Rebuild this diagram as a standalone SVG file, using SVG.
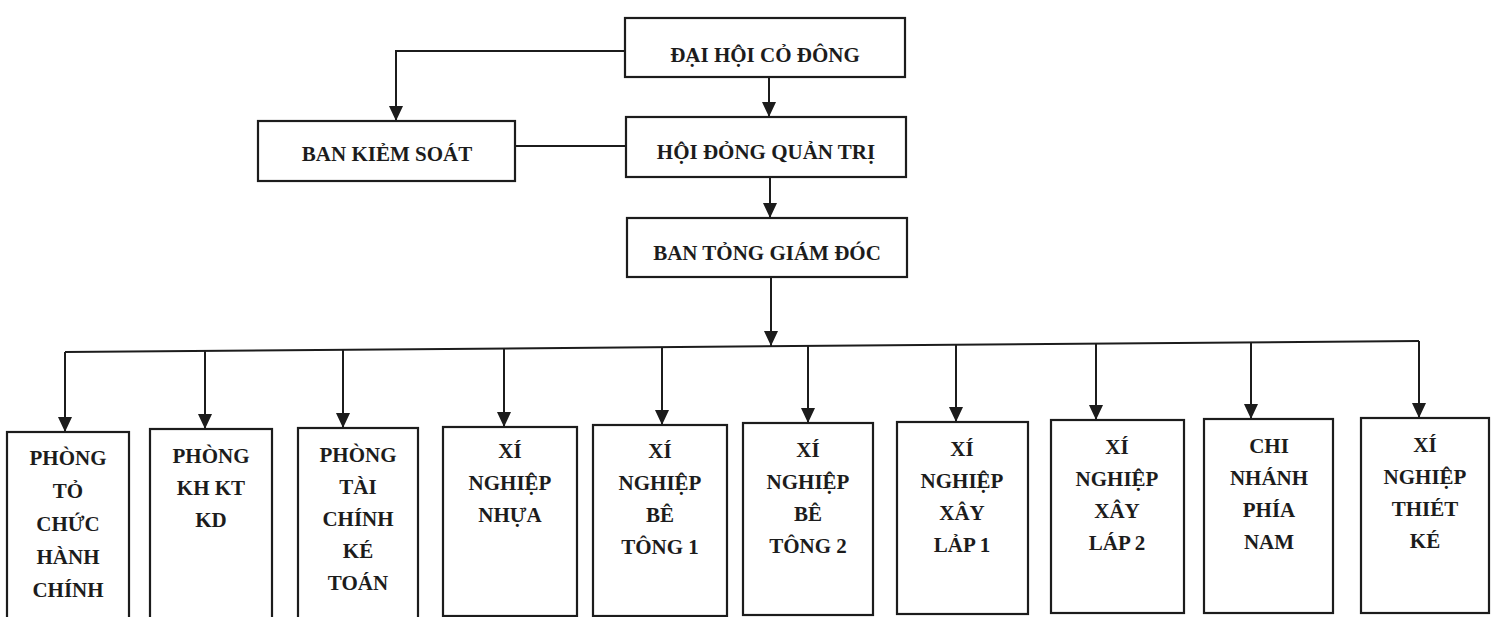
<svg xmlns="http://www.w3.org/2000/svg" width="1492" height="617" viewBox="0 0 1492 617">
<style>
.box{fill:#fff;stroke:#1c1c1c;stroke-width:2.2}
.t{font-family:"Liberation Serif","Times New Roman",serif;font-weight:bold;font-size:21px;fill:#1c1c1c;text-anchor:middle}
.c{fill:none;stroke:#1c1c1c;stroke-width:2}
</style>
<defs>
<marker id="ah" markerUnits="userSpaceOnUse" markerWidth="16" markerHeight="16" viewBox="0 0 16 16" refX="15" refY="8" orient="auto">
<path d="M0,1 L15,8 L0,15 Z" fill="#1c1c1c"/>
</marker>
</defs>
<rect width="1492" height="617" fill="#fff"/>
<g id="connectors">
<path class="c" d="M625,51 H396 V121" marker-end="url(#ah)"/>
<path class="c" d="M769,77 V117" marker-end="url(#ah)"/>
<path class="c" d="M515,146 H626"/>
<path class="c" d="M770,177 V218" marker-end="url(#ah)"/>
<path class="c" d="M771,277 V346" marker-end="url(#ah)"/>
<path class="c" d="M65,352 L1419,341"/>
<path class="c" d="M65,352 V432" marker-end="url(#ah)"/>
<path class="c" d="M205,351 V429" marker-end="url(#ah)"/>
<path class="c" d="M343,350 V428" marker-end="url(#ah)"/>
<path class="c" d="M504,348 V427" marker-end="url(#ah)"/>
<path class="c" d="M662,347 V425" marker-end="url(#ah)"/>
<path class="c" d="M808,346 V423" marker-end="url(#ah)"/>
<path class="c" d="M956,345 V422" marker-end="url(#ah)"/>
<path class="c" d="M1096,344 V420" marker-end="url(#ah)"/>
<path class="c" d="M1251,342 V419" marker-end="url(#ah)"/>
<path class="c" d="M1419,341 V418" marker-end="url(#ah)"/>
</g>
<g id="dai-hoi-co-dong">
<rect class="box" x="625" y="18" width="280" height="59"/>
<text class="t" x="765" y="62">ĐẠI HỘI CỎ ĐÔNG</text>
</g>
<g id="ban-kiem-soat">
<rect class="box" x="258" y="121" width="257" height="60"/>
<text class="t" x="387" y="161">BAN KIẺM SOÁT</text>
</g>
<g id="hoi-dong-quan-tri">
<rect class="box" x="626" y="117" width="280" height="60"/>
<text class="t" x="766" y="159">HỘI ĐỎNG QUẢN TRỊ</text>
</g>
<g id="ban-tong-giam-doc">
<rect class="box" x="627" y="218" width="280" height="59"/>
<text class="t" x="767" y="260">BAN TỎNG GIÁM ĐÓC</text>
</g>
<g id="phong-to-chuc">
<rect class="box" x="7" y="432" width="122" height="200"/>
<text class="t"><tspan x="68" y="465">PHÒNG</tspan><tspan x="68" y="498">TỎ</tspan><tspan x="68" y="531">CHỨC</tspan><tspan x="68" y="564">HÀNH</tspan><tspan x="68" y="597">CHÍNH</tspan></text>
</g>
<g id="phong-kh-kt-kd">
<rect class="box" x="150" y="429" width="122" height="200"/>
<text class="t"><tspan x="211" y="463">PHÒNG</tspan><tspan x="211" y="495">KH KT</tspan><tspan x="211" y="527">KD</tspan></text>
</g>
<g id="phong-tai-chinh">
<rect class="box" x="298" y="428" width="120" height="200"/>
<text class="t"><tspan x="358" y="462">PHÒNG</tspan><tspan x="358" y="494">TÀI</tspan><tspan x="358" y="526">CHÍNH</tspan><tspan x="358" y="558">KÉ</tspan><tspan x="358" y="590">TOÁN</tspan></text>
</g>
<g id="xn-nhua">
<rect class="box" x="443" y="427" width="134" height="189"/>
<text class="t"><tspan x="510" y="458">XÍ</tspan><tspan x="510" y="490">NGHIỆP</tspan><tspan x="510" y="522">NHỰA</tspan></text>
</g>
<g id="xn-be-tong-1">
<rect class="box" x="593" y="425" width="134" height="191"/>
<text class="t"><tspan x="660" y="458">XÍ</tspan><tspan x="660" y="490">NGHIỆP</tspan><tspan x="660" y="522">BÊ</tspan><tspan x="660" y="554">TÔNG 1</tspan></text>
</g>
<g id="xn-be-tong-2">
<rect class="box" x="743" y="423" width="130" height="192"/>
<text class="t"><tspan x="808" y="457">XÍ</tspan><tspan x="808" y="489">NGHIỆP</tspan><tspan x="808" y="521">BÊ</tspan><tspan x="808" y="553">TÔNG 2</tspan></text>
</g>
<g id="xn-xay-lap-1">
<rect class="box" x="897" y="422" width="131" height="192"/>
<text class="t"><tspan x="962" y="456">XÍ</tspan><tspan x="962" y="488">NGHIỆP</tspan><tspan x="962" y="520">XÂY</tspan><tspan x="962" y="552">LẢP 1</tspan></text>
</g>
<g id="xn-xay-lap-2">
<rect class="box" x="1051" y="420" width="133" height="193"/>
<text class="t"><tspan x="1117" y="454">XÍ</tspan><tspan x="1117" y="486">NGHIỆP</tspan><tspan x="1117" y="518">XÂY</tspan><tspan x="1117" y="550">LÁP 2</tspan></text>
</g>
<g id="chi-nhanh-phia-nam">
<rect class="box" x="1204" y="419" width="129" height="194"/>
<text class="t"><tspan x="1269" y="453">CHI</tspan><tspan x="1269" y="485">NHÁNH</tspan><tspan x="1269" y="517">PHÍA</tspan><tspan x="1269" y="549">NAM</tspan></text>
</g>
<g id="xn-thiet-ke">
<rect class="box" x="1361" y="418" width="128" height="195"/>
<text class="t"><tspan x="1425" y="452">XÍ</tspan><tspan x="1425" y="484">NGHIỆP</tspan><tspan x="1425" y="516">THIÉT</tspan><tspan x="1425" y="548">KÉ</tspan></text>
</g>
</svg>
